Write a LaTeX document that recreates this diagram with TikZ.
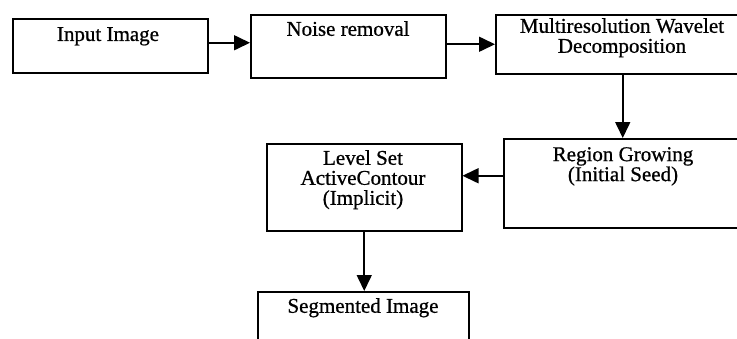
\documentclass[tikz,border=0pt]{standalone}
\usepackage{fontspec}
\setmainfont[FakeBold=0.8]{Liberation Serif}
\usetikzlibrary{arrows.meta}
\begin{document}
\begin{tikzpicture}[x=1pt,y=-1pt,
  box/.style={draw, line width=1.5pt, inner sep=0pt, anchor=north west},
  lbl/.style={inner sep=0pt, anchor=north, align=center, font=\fontsize{21}{20}\selectfont},
  arr/.style={line width=1.6pt, -{Triangle[length=16pt,width=15pt]}}]
\useasboundingbox (0,0) rectangle (737,338);
\clip (0,0) rectangle (737,338);
% boxes
\node[box, minimum width=195pt, minimum height=54pt] (b1) at (12,18) {};
\node[box, minimum width=195pt, minimum height=63pt] (b2) at (250,14) {};
\node[box, minimum width=254pt, minimum height=59pt] (b3) at (495,14) {};
\node[box, minimum width=238pt, minimum height=89pt] (b4) at (503,138) {};
\node[box, minimum width=195pt, minimum height=87pt] (b5) at (266,143) {};
\node[box, minimum width=211pt, minimum height=70pt] (b6) at (257,291) {};
% labels
\node[lbl] (t1) at (108,27) {Input Image};
\node[lbl] (t2) at (348,21) {Noise removal};
\node[lbl] (t3) at (622,18) {Multiresolution Wavelet\\Decomposition};
\node[lbl] (t4) at (623,147) {Region Growing\\(Initial Seed)};
\node[lbl] (t5) at (363,150) {Level Set\\ActiveContour\\(Implicit)};
\node[lbl] (t6) at (363,298) {Segmented Image};
% connectors
\draw[arr] ([yshift=3pt]b1.east) -- ([yshift=3pt]b1.east -| b2.west);
\draw[arr] (b3.west -| b2.east) -- (b3.west);
\draw[arr] (b3.south) -- (b4.north);
\draw[arr] ([yshift=7.5pt]b4.west) -- ([yshift=7.5pt]b4.west -| b5.east);
\draw[arr] (b5.south) -- (b5.south |- b6.north);
\end{tikzpicture}
\end{document}
